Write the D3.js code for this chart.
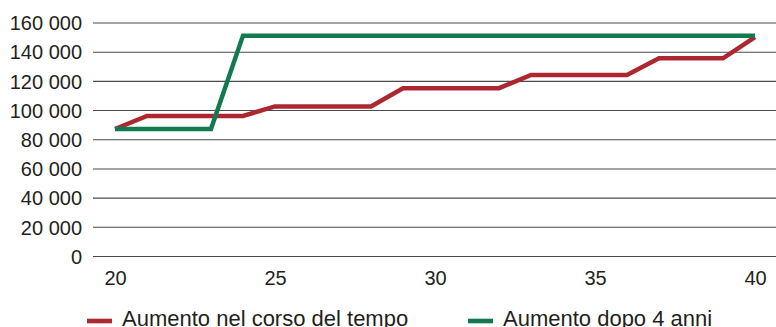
<!DOCTYPE html>
<html><head><meta charset="utf-8">
<script src="https://cdn.jsdelivr.net/npm/d3@7"></script>
<style>body{margin:0;background:#fff}svg{display:block}text{font-family:"Liberation Sans",Arial,sans-serif;fill:#231f20}</style>
</head><body><svg id="c" width="776" height="327"></svg>
<script>
const years = [20,21,22,23,24,25,26,27,28,29,30,31,32,33,34,35,36,37,38,39,40];
const redValues = [87000,96000,96000,96000,96000,102500,102500,102500,102500,115000,115000,115000,115000,124000,124000,124000,124000,135500,135500,135500,150000];
const greenValues = [87000,87000,87000,87000,151000,151000,151000,151000,151000,151000,151000,151000,151000,151000,151000,151000,151000,151000,151000,151000,151000];
const yTicks = [0,20000,40000,60000,80000,100000,120000,140000,160000];
const xTicks = [20,25,30,35,40];
const seriesNames = ["Aumento nel corso del tempo","Aumento dopo 4 anni"];
const colors = ["#ad2730","#137a50"];

const svg = d3.select("#c");
const x = d3.scaleLinear().domain([20,40]).range([115,755]);
const y = d3.scaleLinear().domain([0,160000]).range([256,22.5]);
const fmt = v => d3.format(",")(v).replace(/,/g," ");

// grid + y labels
const yAxis = d3.axisLeft(y).tickValues(yTicks).tickSize(-683).tickPadding(11).tickFormat(fmt);
const gy = svg.append("g").attr("transform","translate(93,0)").call(yAxis);
gy.select(".domain").remove();
gy.selectAll(".tick line").attr("stroke","#4a4a4a").attr("stroke-width",1.1);
gy.selectAll(".tick text").attr("font-size",20).attr("fill","#231f20").attr("dy","0.36em");

// x labels
const xAxis = d3.axisBottom(x).tickValues(xTicks).tickSize(0).tickPadding(0).tickFormat(d=>d);
const gx = svg.append("g").attr("transform","translate(0,285)").call(xAxis);
gx.select(".domain").remove();
gx.selectAll(".tick text").attr("font-size",20).attr("fill","#231f20").attr("dy",0);

const line = d3.line().x((d,i)=>x(years[i])).y(d=>y(d));
[redValues, greenValues].forEach((vals,k)=>{
  svg.append("path").datum(vals).attr("d",line).attr("fill","none")
    .attr("stroke",colors[k]).attr("stroke-width",4.5).attr("stroke-linejoin","miter");
});

// legend
const legX = [87,468];
seriesNames.forEach((n,k)=>{
  const g = svg.append("g").attr("transform",`translate(${legX[k]},321)`);
  g.append("rect").attr("x",0).attr("y",-2.3).attr("width",25).attr("height",4.6).attr("fill",colors[k]);
  g.append("text").attr("x",35).attr("y",5).attr("font-size",22).text(n);
});
</script></body></html>
